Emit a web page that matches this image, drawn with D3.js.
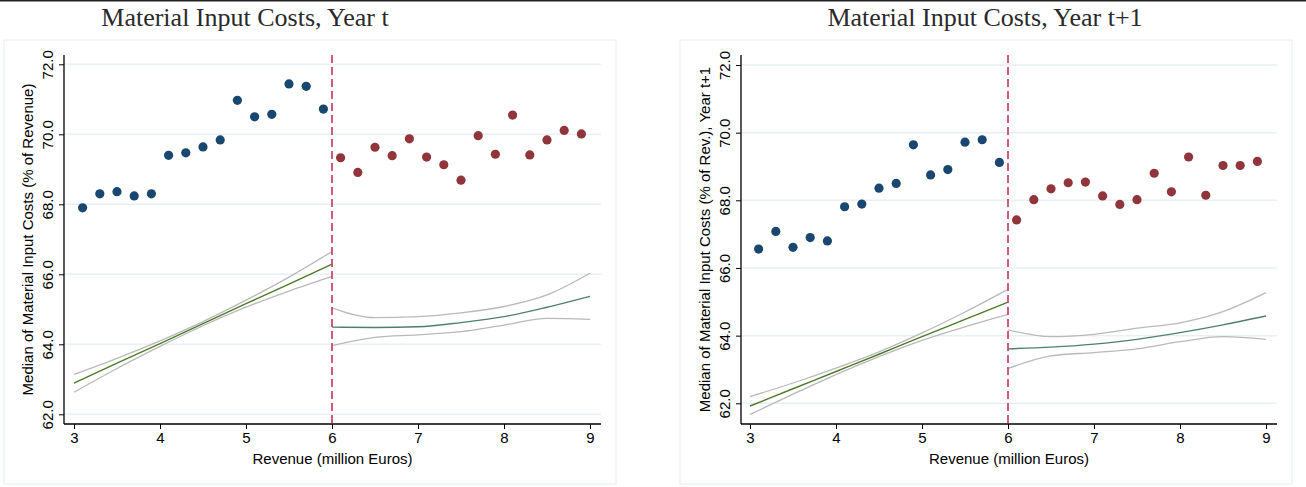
<!DOCTYPE html>
<html>
<head>
<meta charset="utf-8">
<script src="https://cdn.jsdelivr.net/npm/d3@7"></script>
<style>
  body { margin: 0; background: #fff; }
  svg { display: block; }
</style>
</head>
<body>
<div id="chart"></div>
<script>
// bins (million Euros)
var binsBelow = [3.1, 3.3, 3.5, 3.7, 3.9, 4.1, 4.3, 4.5, 4.7, 4.9, 5.1, 5.3, 5.5, 5.7, 5.9];
var binsAbove = [6.1, 6.3, 6.5, 6.7, 6.9, 7.1, 7.3, 7.5, 7.7, 7.9, 8.1, 8.3, 8.5, 8.7, 8.9];

// year t medians
var medBelowT = [67.90, 68.30, 68.36, 68.24, 68.30, 69.40, 69.47, 69.64, 69.84, 70.97, 70.50, 70.57, 71.44, 71.37, 70.72];
var medAboveT = [69.33, 68.91, 69.63, 69.39, 69.87, 69.35, 69.13, 68.69, 69.96, 69.43, 70.55, 69.41, 69.84, 70.11, 70.01];

// year t+1 medians
var medBelowT1 = [66.56, 67.08, 66.61, 66.90, 66.80, 67.81, 67.89, 68.36, 68.50, 69.64, 68.75, 68.91, 69.72, 69.79, 69.12];
var medAboveT1 = [67.42, 68.02, 68.34, 68.52, 68.54, 68.13, 67.88, 68.02, 68.80, 68.25, 69.28, 68.15, 69.03, 69.03, 69.15];

// fitted lines and confidence bands
var fitXBelow = [3, 3.5, 4, 4.5, 5, 5.5, 6];
var fitXAbove = [6, 6.5, 7, 7.5, 8, 8.5, 9];

var fitBelowT = [62.89, 63.46, 64.02, 64.59, 65.16, 65.72, 66.29];
var ciHiBelowT = [63.14, 63.60, 64.10, 64.65, 65.26, 65.92, 66.65];
var ciLoBelowT = [62.63, 63.31, 63.94, 64.53, 65.06, 65.52, 65.94];
var fitAboveT = [64.49, 64.48, 64.50, 64.62, 64.79, 65.06, 65.37];
var ciHiAboveT = [65.04, 64.76, 64.79, 64.90, 65.08, 65.41, 66.03];
var ciLoAboveT = [63.96, 64.20, 64.27, 64.36, 64.55, 64.74, 64.71];

var fitBelowT1 = [61.92, 62.43, 62.94, 63.45, 63.97, 64.48, 64.99];
var ciHiBelowT1 = [62.20, 62.60, 63.04, 63.52, 64.08, 64.70, 65.37];
var ciLoBelowT1 = [61.67, 62.27, 62.85, 63.38, 63.86, 64.26, 64.63];
var fitAboveT1 = [63.61, 63.66, 63.75, 63.89, 64.09, 64.32, 64.58];
var ciHiAboveT1 = [64.17, 63.97, 64.04, 64.22, 64.38, 64.71, 65.27];
var ciLoAboveT1 = [63.03, 63.40, 63.50, 63.61, 63.82, 63.97, 63.89];

var xTicks = [3, 4, 5, 6, 7, 8, 9];
var yTicks = [62, 64, 66, 68, 70, 72];
var cutoff = 6;

var titles = ["Material Input Costs, Year t", "Material Input Costs, Year t+1"];
var yTitles = ["Median of Material Input Costs (% of Revenue)",
               "Median of Material Input Costs (% of Rev.), Year t+1"];
var xTitle = "Revenue (million Euros)";

var svg = d3.select("#chart").append("svg")
    .attr("width", 1306)
    .attr("height", 487);

svg.append("rect")
    .attr("x", 0).attr("y", 0)
    .attr("width", 1306).attr("height", 1.5)
    .style("fill", "#222");

var zip = function(xs, ys) { return xs.map(function(x, i) { return [x, ys[i]]; }); };

function drawPanel(p) {
    var g = svg.append("g");

    // light frame around the graph region
    g.append("rect")
        .attr("x", p.box[0]).attr("y", p.box[1])
        .attr("width", p.box[2]).attr("height", p.box[3])
        .style("fill", "none")
        .style("stroke", "#e6eef0")
        .style("stroke-width", 1);

    g.append("text")
        .attr("x", p.titleX).attr("y", 26)
        .attr("text-anchor", "middle")
        .style("font-family", "'Liberation Serif', 'DejaVu Serif', serif")
        .style("font-size", "26px")
        .style("fill", "#2a2a2a")
        .text(p.title);

    var x = d3.scaleLinear().domain([3, 9]).range(p.xRange);
    var y = d3.scaleLinear().domain([62, 72]).range(p.yRange);

    // gridlines
    g.selectAll(".grid").data(yTicks).enter().append("line")
        .attr("x1", p.left).attr("x2", p.right)
        .attr("y1", function(d) { return y(d); })
        .attr("y2", function(d) { return y(d); })
        .style("stroke", "#e8f0f3")
        .style("stroke-width", 1.5);

    // y axis
    var yAxis = d3.axisLeft(y).tickValues(yTicks).tickSize(5).tickFormat(d3.format(".1f"));
    var ya = g.append("g")
        .attr("transform", "translate(" + p.left + ",0)")
        .call(yAxis);
    ya.select(".domain").remove();
    ya.selectAll("line").style("stroke", "#000");
    ya.selectAll("text")
        .attr("x", 0).attr("y", 0).attr("dy", 0)
        .attr("text-anchor", "middle")
        .attr("transform", "translate(-11,0) rotate(-90)")
        .style("font-family", "'Liberation Sans', Arial, sans-serif")
        .style("font-size", "15px")
        .style("fill", "#000");

    // x axis
    var xAxis = d3.axisBottom(x).tickValues(xTicks).tickSize(5).tickFormat(d3.format("d"));
    var xa = g.append("g")
        .attr("transform", "translate(0," + p.bottom + ")")
        .call(xAxis);
    xa.select(".domain").remove();
    xa.selectAll("line").style("stroke", "#000");
    xa.selectAll("text")
        .attr("y", 8)
        .style("font-family", "'Liberation Sans', Arial, sans-serif")
        .style("font-size", "15px")
        .style("fill", "#000");

    g.append("line")
        .attr("x1", p.left).attr("x2", p.left)
        .attr("y1", p.top).attr("y2", p.bottom)
        .style("stroke", "#000").style("stroke-width", 1.3);
    g.append("line")
        .attr("x1", p.left).attr("x2", p.right)
        .attr("y1", p.bottom).attr("y2", p.bottom)
        .style("stroke", "#000").style("stroke-width", 1.3);

    // axis titles
    g.append("text")
        .attr("transform", "translate(" + p.yTitleX + "," + ((p.top + p.bottom) / 2) + ") rotate(-90)")
        .attr("text-anchor", "middle")
        .style("font-family", "'Liberation Sans', Arial, sans-serif")
        .style("font-size", "15px")
        .style("fill", "#000")
        .text(p.yTitle);
    g.append("text")
        .attr("x", (p.left + p.right) / 2).attr("y", p.bottom + 40)
        .attr("text-anchor", "middle")
        .style("font-family", "'Liberation Sans', Arial, sans-serif")
        .style("font-size", "15px")
        .style("fill", "#000")
        .text(xTitle);

    var line = d3.line()
        .x(function(d) { return x(d[0]); })
        .y(function(d) { return y(d[1]); })
        .curve(d3.curveMonotoneX);

    // confidence bands
    [p.ciHiB, p.ciLoB].forEach(function(s) {
        g.append("path").datum(zip(fitXBelow, s)).attr("d", line)
            .style("fill", "none").style("stroke", "#b9b9b9").style("stroke-width", 1.3);
    });
    [p.ciHiA, p.ciLoA].forEach(function(s) {
        g.append("path").datum(zip(fitXAbove, s)).attr("d", line)
            .style("fill", "none").style("stroke", "#b9b9b9").style("stroke-width", 1.3);
    });
    g.append("path").datum(zip(fitXBelow, p.fitB)).attr("d", line)
        .style("fill", "none").style("stroke", "#4e7a2a").style("stroke-width", 1.4);
    g.append("path").datum(zip(fitXAbove, p.fitA)).attr("d", line)
        .style("fill", "none").style("stroke", "#4f7f6f").style("stroke-width", 1.4);

    // dots
    g.selectAll(".below").data(zip(binsBelow, p.below)).enter().append("circle")
        .attr("cx", function(d) { return x(d[0]); })
        .attr("cy", function(d) { return y(d[1]); })
        .attr("r", 4.6)
        .style("fill", "#1a476f");
    g.selectAll(".above").data(zip(binsAbove, p.above)).enter().append("circle")
        .attr("cx", function(d) { return x(d[0]); })
        .attr("cy", function(d) { return y(d[1]); })
        .attr("r", 4.6)
        .style("fill", "#90353b");

    // cutoff
    g.append("line")
        .attr("x1", x(cutoff)).attr("x2", x(cutoff))
        .attr("y1", p.top).attr("y2", p.bottom)
        .style("stroke", "#d2466c")
        .style("stroke-width", 1.8)
        .style("stroke-dasharray", "8,4");
}

drawPanel({
    box: [4, 40, 612, 444],
    title: titles[0], titleX: 245,
    yTitle: yTitles[0], yTitleX: 33,
    left: 64, right: 601, top: 55, bottom: 424,
    xRange: [74, 590], yRange: [414.3, 64.3],
    below: medBelowT, above: medAboveT,
    fitB: fitBelowT, ciHiB: ciHiBelowT, ciLoB: ciLoBelowT,
    fitA: fitAboveT, ciHiA: ciHiAboveT, ciLoA: ciLoAboveT
});

drawPanel({
    box: [680, 40, 612, 444],
    title: titles[1], titleX: 985,
    yTitle: yTitles[1], yTitleX: 710,
    left: 741, right: 1277, top: 55, bottom: 424,
    xRange: [750, 1266], yRange: [403.3, 65],
    below: medBelowT1, above: medAboveT1,
    fitB: fitBelowT1, ciHiB: ciHiBelowT1, ciLoB: ciLoBelowT1,
    fitA: fitAboveT1, ciHiA: ciHiAboveT1, ciLoA: ciLoAboveT1
});
</script>
</body>
</html>
